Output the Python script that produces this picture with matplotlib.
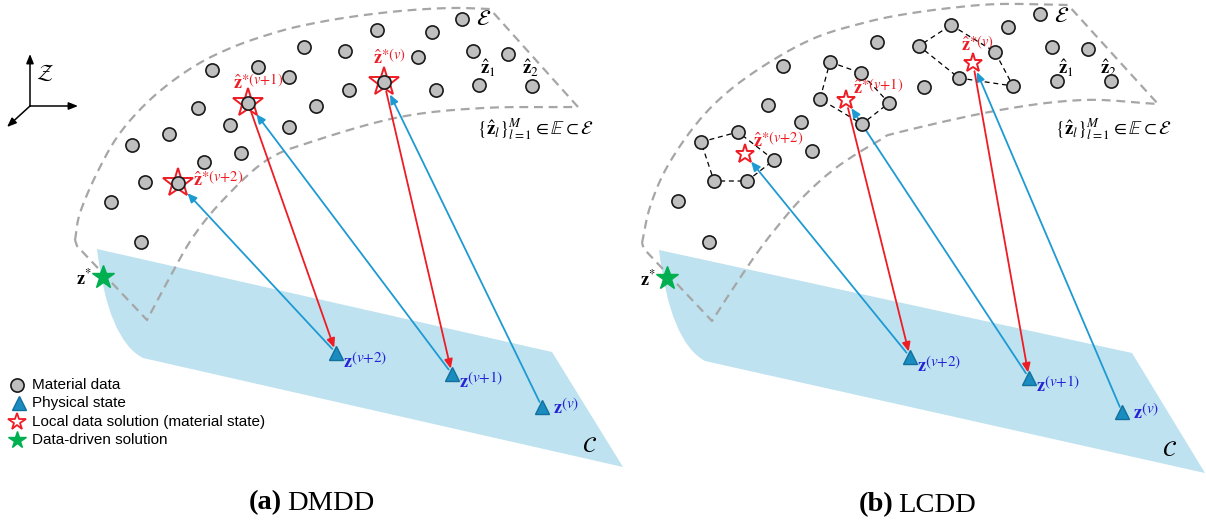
import numpy as np
import matplotlib.pyplot as plt
from matplotlib.path import Path
from matplotlib.patches import PathPatch

plt.rcParams['mathtext.fontset'] = 'stix'

# ---- panel (a) DMDD : material data points (pixel positions)
a_data_x = [212, 258, 289, 198, 230, 289, 169, 132, 241, 204, 145, 111, 141, 304, 345,
            377, 432, 462, 418, 473, 508, 479, 532, 436, 349, 316, 248, 178, 384]
a_data_y = [70, 67, 77, 108, 125, 127, 134, 145, 153, 162, 182, 202, 242, 47, 51,
            30, 32, 19, 57, 51, 54, 85, 86, 90, 90, 106, 103, 183, 82]
# physical states z(v), z(v+1), z(v+2) and local solutions z*(v), z*(v+1), z*(v+2)
a_state_x = [542, 452, 336]
a_state_y = [407, 374, 353]
a_local_x = [384, 248, 178]
a_local_y = [82, 103, 183]
a_final = (103, 277)

# ---- panel (b) LCDD
b_data_x = [783, 830, 861, 877, 768, 820, 889, 801, 862, 738, 701, 774, 812, 714, 747,
            678, 709, 919, 951, 1008, 1040, 995, 959, 1013, 924, 1052, 1088, 1057, 1111]
b_data_y = [66, 62, 73, 42, 105, 99, 103, 122, 124, 132, 142, 160, 151, 181, 181,
            201, 242, 46, 25, 27, 14, 52, 78, 86, 87, 47, 49, 81, 81]
b_state_x = [1122, 1029, 910]
b_state_y = [412, 378, 357]
b_local_x = [973, 846, 745]
b_local_y = [63, 100, 154]
b_final = (667, 278)
# local neighbourhoods (dashed hulls) around each local solution
b_hulls = [
    [(951, 25), (995, 52), (1013, 86), (959, 78), (919, 46)],
    [(830, 62), (861, 73), (889, 103), (862, 124), (820, 99)],
    [(701, 142), (738, 132), (774, 160), (747, 181), (714, 181)],
]

# set E outline (outer and inner boundary) and constraint plane C
a_outer = [(75, 240), (80, 213), (97, 173), (120, 133), (153, 97), (193, 67), (233, 47),
           (277, 32), (310, 24), (350, 17), (400, 11), (450, 8), (490, 9)]
a_inner = [(578, 107), (483, 108), (400, 117), (317, 140), (267, 160), (223, 200),
           (193, 237), (170, 277), (147, 320)]
a_plane = [(97, 249), (552, 352), (623, 467), (143, 358), (108, 340)]
b_outer = [(642, 243), (650, 207), (667, 167), (697, 123), (730, 90), (773, 60), (817, 37),
           (863, 23), (900, 15), (950, 8), (1000, 4), (1068, 5)]
b_inner = [(1158, 104), (1083, 100), (1000, 110), (900, 132), (880, 140), (837, 167),
           (803, 197), (777, 227), (757, 253), (732, 290), (712, 321)]
b_plane = [(659, 250), (1132, 353), (1205, 473), (705, 361), (670, 342)]

SUPS = ['(v)', '(v{+}1)', '(v{+}2)']

RED = '#EE1C24'
BLUE = '#1E9AD2'
TRI = '#1A8CC0'
ZBLUE = '#2424D6'
GREEN = '#00B050'
GRAY = '#A6A6A6'


def smooth(pts, n=12):
    # catmull-rom through the given points
    p = np.asarray(pts, dtype=float)
    p = np.vstack([2 * p[0] - p[1], p, 2 * p[-1] - p[-2]])
    t = np.linspace(0, 1, n, endpoint=False)[:, None]
    out = []
    for i in range(1, len(p) - 2):
        p0, p1, p2, p3 = p[i - 1], p[i], p[i + 1], p[i + 2]
        out.append(0.5 * (2 * p1 + (-p0 + p2) * t + (2 * p0 - 5 * p1 + 4 * p2 - p3) * t ** 2
                          + (-p0 + 3 * p1 - 3 * p2 + p3) * t ** 3))
    out.append(p[-2][None, :])
    return np.vstack(out)


def arrow(ax, start, end, color, sa, sb):
    ax.annotate('', xy=end, xytext=start,
                arrowprops=dict(arrowstyle='-|>,head_length=0.45,head_width=0.2',
                                color=color, lw=1.3, shrinkA=sa, shrinkB=sb,
                                mutation_scale=12), zorder=3)


def sup_label(ax, x, y, base, sup, color, fs_sup):
    # base glyph with baseline at y, superscript placed right after it
    t = ax.text(x, y, base, color=color, fontsize=13, ha='left', va='baseline', zorder=8)
    ax.annotate(sup, xy=(1, 0), xycoords=t, xytext=(-1.2, 6), textcoords='offset points',
                color=color, fontsize=fs_sup, ha='left', va='baseline', zorder=8)


def draw_panel(ax, data_x, data_y, st_x, st_y, lc_x, lc_y, final, outer, inner, plane, lcdd):
    v = plane
    path = Path([v[0], v[1], v[2], v[3], v[4], v[0], v[0]],
                [Path.MOVETO, Path.LINETO, Path.LINETO, Path.LINETO,
                 Path.CURVE3, Path.CURVE3, Path.CLOSEPOLY])
    ax.add_patch(PathPatch(path, facecolor='#BEE2F0', edgecolor='none', zorder=0))

    o = smooth(outer)
    i = smooth(inner)
    corner = np.array([[outer[0][0] + 2, outer[0][1] + 6], outer[0]])
    band = np.vstack([o, i, corner])
    ax.plot(band[:, 0], band[:, 1], color=GRAY, lw=1.6, ls=(0, (4, 2.6)), zorder=1)

    # iteration arrows
    sb_star = 7 if lcdd else 10
    sa_star = 6 if lcdd else 7
    for k in range(3):
        arrow(ax, (st_x[k], st_y[k]), (lc_x[k], lc_y[k]), BLUE, 4, sb_star)
        if k < 2:
            arrow(ax, (lc_x[k], lc_y[k]), (st_x[k + 1], st_y[k + 1]), RED, sa_star, 4)

    ax.scatter(data_x, data_y, s=90, c='#BFBFBF', edgecolors='#1A1A1A', linewidths=1.2, zorder=5)
    if lcdd:
        ax.plot(lc_x, lc_y, ls='none', marker='*', ms=14, mfc='white', mec=RED, mew=1.4, zorder=6)
    else:
        ax.plot(lc_x, lc_y, ls='none', marker='*', ms=22, mfc='none', mec=RED, mew=1.4, zorder=4)
    ax.plot(st_x, st_y, ls='none', marker='^', ms=10, mfc=TRI, mec='#11709C', mew=1, zorder=6)
    ax.plot(*final, marker='*', ms=17, color=GREEN, zorder=6)
    ax.text(final[0] - 11, final[1] + 1, r'$\mathbf{z}^{*}$', fontsize=13, ha='right',
            va='center', zorder=7)

    # physical state labels (offsets as in the reference layout)
    for k, (dx, dy) in enumerate([(11, 6), (7, 13), (7, 14)]):
        sup_label(ax, st_x[k] + dx, st_y[k] + dy, r'$\mathbf{z}$', '$%s$' % SUPS[k], ZBLUE, 11)


fig = plt.figure(figsize=(12.06, 5.29), dpi=100)
ax = fig.add_axes([0, 0, 1, 1])
ax.set_xlim(0, 1206)
ax.set_ylim(529, 0)
ax.axis('off')

draw_panel(ax, a_data_x, a_data_y, a_state_x, a_state_y, a_local_x, a_local_y, a_final,
           a_outer, a_inner, a_plane, False)
draw_panel(ax, b_data_x, b_data_y, b_state_x, b_state_y, b_local_x, b_local_y, b_final,
           b_outer, b_inner, b_plane, True)

for h in b_hulls:
    hh = np.array(h + [h[0]])
    ax.plot(hh[:, 0], hh[:, 1], color='black', lw=0.9, ls=(0, (4, 3)), zorder=2)

# local solution labels
hat = r'$\hat{\mathbf{z}}$'
for (x, y), s in zip([(373, 64), (233, 89), (193, 186), (961, 51), (853, 94), (753, 147)],
                     SUPS + SUPS):
    sup_label(ax, x, y, hat, '$*%s$' % s, RED, 10.5)

# set annotations
for dx in (0, 578):
    ax.text(488 + dx, 68, r'$\hat{\mathbf{z}}_1$', fontsize=13.5, ha='center', va='center')
    ax.text(530 + dx, 68, r'$\hat{\mathbf{z}}_2$', fontsize=13.5, ha='center', va='center')
    ax.text(477 + dx, 129, r'$\{\hat{\mathbf{z}}_l\}_{l=1}^{M}\in\mathbb{E}\subset\mathcal{E}$',
            fontsize=13.5, ha='left', va='center')
ax.text(484, 19, r'$\mathcal{E}$', fontsize=16, ha='center', va='center')
ax.text(1062, 16, r'$\mathcal{E}$', fontsize=16, ha='center', va='center')
ax.text(590, 446, r'$\mathcal{C}$', fontsize=16, ha='center', va='center')
ax.text(1170, 450, r'$\mathcal{C}$', fontsize=16, ha='center', va='center')

# coordinate symbol
ax0 = (30, 106)
for tip in [(30, 54), (78, 106), (7, 127)]:
    ax.annotate('', xy=tip, xytext=ax0,
                arrowprops=dict(arrowstyle='-|>,head_length=0.5,head_width=0.2', color='black',
                                lw=1.1, shrinkA=0, shrinkB=0, mutation_scale=11))
ax.text(45, 73, r'$\mathcal{Z}$', fontsize=16, ha='center', va='center')

# legend
leg_font = dict(fontsize=11, family='Liberation Sans', va='center', ha='left')
ax.plot(17, 385, marker='o', ms=9.5, mfc='#BFBFBF', mec='#1A1A1A', mew=1.2)
ax.text(32, 385, 'Material data', **leg_font)
ax.plot(19, 403, marker='^', ms=9.5, mfc=TRI, mec='#11709C', mew=1)
ax.text(32, 403, 'Physical state', **leg_font)
ax.plot(17, 422, marker='*', ms=13, mfc='white', mec=RED, mew=1.3)
ax.text(32, 422, 'Local data solution (material state)', **leg_font)
ax.plot(17, 440, marker='*', ms=13, color=GREEN)
ax.text(32, 440, 'Data-driven solution', **leg_font)

# captions
cap = dict(fontsize=20.5, family='Liberation Serif', va='center')
ax.text(282, 503, '(a)', fontweight='bold', ha='right', **cap)
ax.text(287, 503, 'DMDD', ha='left', **cap)
ax.text(893, 505, '(b)', fontweight='bold', ha='right', **cap)
ax.text(898, 505, 'LCDD', ha='left', **cap)

fig.savefig('out.png', dpi=100)
plt.close(fig)
